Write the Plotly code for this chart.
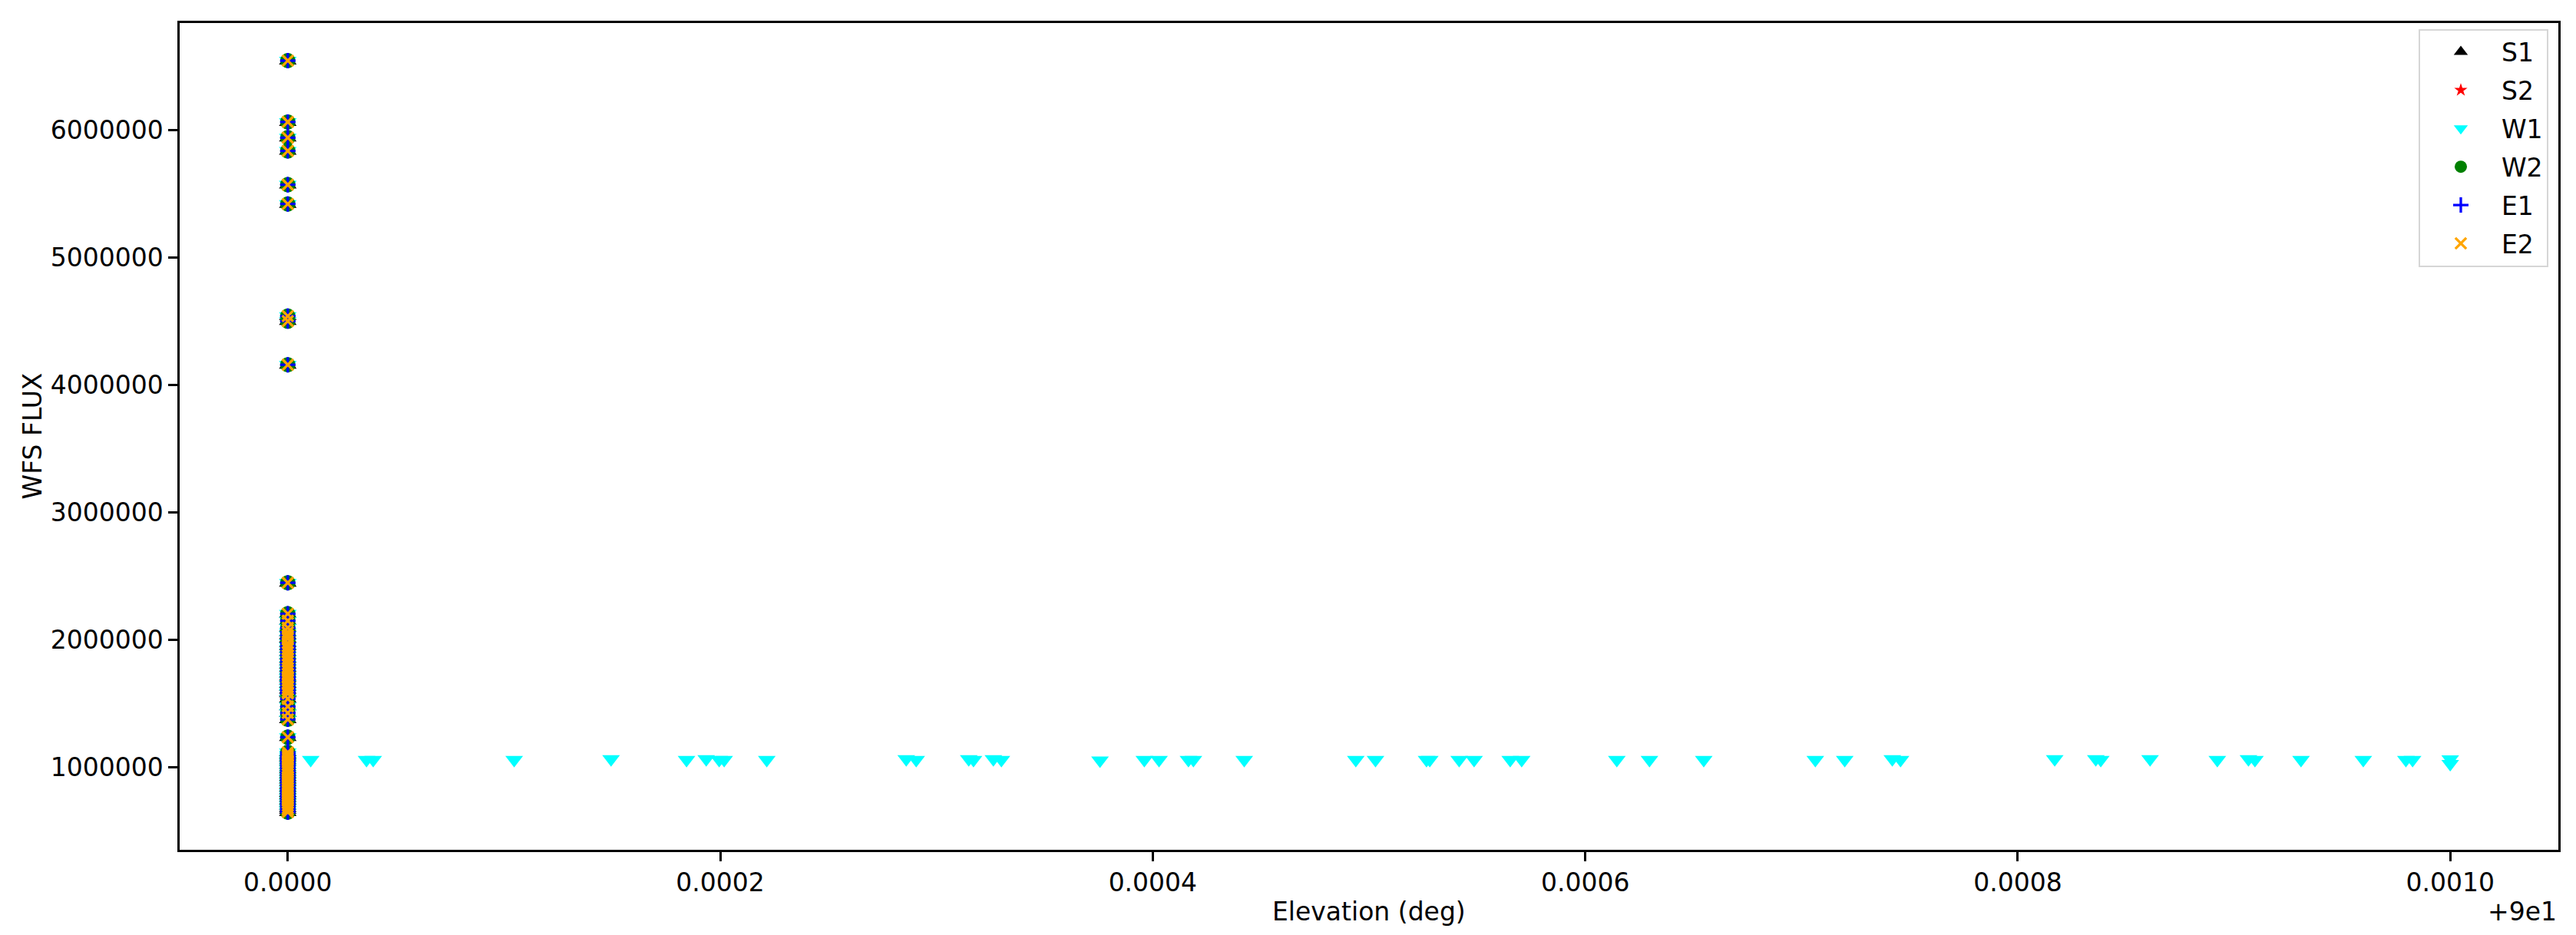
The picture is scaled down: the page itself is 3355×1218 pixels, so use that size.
import plotly.graph_objects as go

# ---------------- data ----------------
# Elevation is plotted as offset from 90 deg (matplotlib showed "+9e1" offset)
ELEV_BASE = 90.0

# Flux values of the points sitting at elevation 90.0000 (shared by all WFS)
column_flux = [
    6543000, 6062000, 5939000, 5835000, 5570000, 5419000, 4540000, 4500000, 4158000,
    2448000,
    2205000, 2150000, 2095000, 2060000, 2036000, 2010000, 1975000, 1950000, 1930000,
    1905000, 1879000, 1850000, 1830000, 1805000, 1780000, 1760000, 1735000, 1712000,
    1700000, 1680000, 1655000, 1630000, 1610000, 1590000, 1580000, 1538000, 1478000,
    1427000, 1377000,
    1237000,
    1118000, 1100000, 1085000, 1070000, 1055000, 1040000, 1020000, 1000000, 985000,
    965000, 945000, 925000, 905000, 885000, 862000, 840000, 820000, 800000, 780000,
    760000, 740000, 720000, 700000, 680000, 665000, 649000,
]
column_elev_offset = [0.0] * len(column_flux)

# W1 points spread along elevation (offset from 90 deg, in deg)
w1_row_elev_offset = [
    10.6e-6, 36.4e-6, 39.5e-6, 104.7e-6, 149.5e-6, 184.4e-6, 193.5e-6, 199.5e-6,
    201.8e-6, 221.5e-6, 286.0e-6, 290.6e-6, 314.9e-6, 317.1e-6, 326.3e-6, 330.0e-6,
    375.6e-6, 396.1e-6, 402.9e-6, 416.5e-6, 418.8e-6, 442.3e-6, 493.9e-6, 503.0e-6,
    526.6e-6, 528.1e-6, 541.7e-6, 548.6e-6, 565.3e-6, 570.6e-6, 614.6e-6, 629.7e-6,
    654.8e-6, 706.4e-6, 720.0e-6, 742.0e-6, 745.8e-6, 817.1e-6, 836.1e-6, 838.4e-6,
    861.2e-6, 892.3e-6, 906.7e-6, 909.7e-6, 931.0e-6, 959.8e-6, 979.5e-6, 982.6e-6,
    1000.0e-6, 1000.0e-6,
]
w1_row_flux = [
    1060000, 1060000, 1060000, 1060000, 1066000, 1060000, 1066000, 1060000,
    1060000, 1060000, 1066000, 1060000, 1066000, 1060000, 1066000, 1060000,
    1056000, 1060000, 1060000, 1060000, 1060000, 1060000, 1060000, 1060000,
    1060000, 1060000, 1060000, 1060000, 1060000, 1060000, 1060000, 1060000,
    1060000, 1060000, 1060000, 1066000, 1060000, 1066000, 1066000, 1060000,
    1066000, 1060000, 1066000, 1060000, 1060000, 1060000, 1060000, 1060000,
    1064000, 1029000,
]

series_names = ["S1", "S2", "W1", "W2", "E1", "E2"]
series_colors = ["black", "red", "cyan", "green", "blue", "orange"]
series_symbols = ["triangle-up", "star", "triangle-down", "circle", "cross-thin", "x-thin"]
series_sizes = [20, 13, 20, 20, 14.3, 14.3]

x_ticks = [0.0, 0.0002, 0.0004, 0.0006, 0.0008, 0.0010]
y_ticks = [1000000, 2000000, 3000000, 4000000, 5000000, 6000000]

x_title = "Elevation (deg)"
y_title = "WFS FLUX"
x_offset_text = "+9e1"

# ---------------- figure ----------------
FONT = dict(family="DejaVu Sans", size=33, color="black")

fig = go.Figure()
for name, color, sym, size in zip(series_names, series_colors, series_symbols, series_sizes):
    xs = list(column_elev_offset)
    ys = list(column_flux)
    if name == "W1":
        xs += w1_row_elev_offset
        ys += w1_row_flux
    thin = sym.endswith("-thin")
    marker = dict(symbol=sym, size=size, color=color)
    if thin:
        marker["line"] = dict(color=color, width=3.3)
    else:
        marker["line"] = dict(width=0)
    fig.add_trace(go.Scatter(
        x=xs, y=ys, mode="markers", name=name, marker=marker,
        legendgroup=name,
    ))

W, H = 3355, 1218
L, R, T, B = 226, 31, 22, 119
PW, PH = W - L - R, H - T - B

fig.update_layout(
    width=W, height=H,
    margin=dict(l=L, r=R, t=T, b=B),
    paper_bgcolor="white", plot_bgcolor="white",
    font=FONT,
    showlegend=True,
    legend=dict(
        x=0.9958, y=0.993, xanchor="right", yanchor="top",
        bgcolor="rgba(255,255,255,0.8)", bordercolor="#d6d6d6", borderwidth=2,
        font=FONT, tracegroupgap=4, itemwidth=96,
    ),
)
fig.update_xaxes(
    range=[-0.00005, 0.00105],
    tickvals=x_ticks, tickformat=".4f",
    showgrid=False, zeroline=False,
    showline=True, mirror=True, linecolor="black", linewidth=2.7,
    ticks="outside", ticklen=11.7, tickwidth=2.7, tickcolor="black",
)
fig.update_yaxes(
    range=[354000, 6838000],
    tickvals=y_ticks, tickformat="d",
    showgrid=False, zeroline=False,
    showline=True, mirror=True, linecolor="black", linewidth=2.7,
    ticks="outside", ticklen=11.7, tickwidth=2.7, tickcolor="black",
)
# axis titles and matplotlib-style offset text
fig.add_annotation(
    text=x_title, xref="paper", yref="paper", x=0.5, y=-(1179 - (H - B)) / PH,
    xanchor="center", yanchor="middle", showarrow=False, font=FONT,
)
fig.add_annotation(
    text=x_offset_text, xref="paper", yref="paper", x=1.0, y=-(1179 - (H - B)) / PH,
    xanchor="right", yanchor="middle", showarrow=False, font=FONT,
)
fig.add_annotation(
    text=y_title, xref="paper", yref="paper", x=(34 - L) / PW, y=0.5,
    xanchor="center", yanchor="middle", textangle=-90, showarrow=False, font=FONT,
)

fig.write_html("out.html")
